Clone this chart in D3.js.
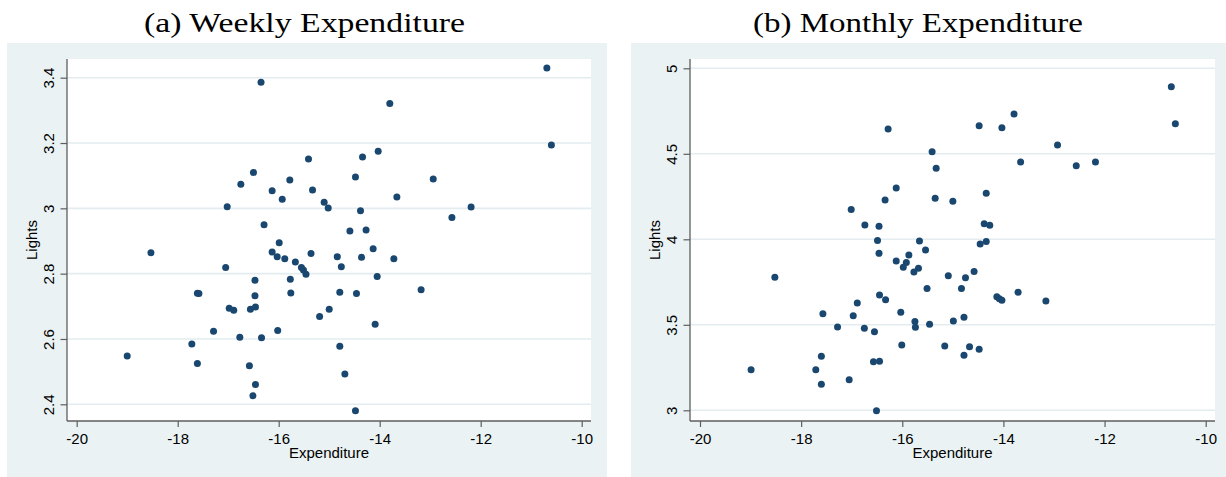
<!DOCTYPE html>
<html>
<head>
<meta charset="utf-8">
<script src="https://cdn.jsdelivr.net/npm/d3@7"></script>
<style>
  html, body { margin: 0; padding: 0; background: #ffffff; }
  svg { display: block; }
</style>
</head>
<body>
<svg id="chart" width="1226" height="477"></svg>
<script>
// Weekly expenditure vs. lights
const weeklyExp = [-10.69,-10.60,-16.35,-13.80,-14.03,-14.34,-15.41,-16.50,-15.78,-16.75,
  -16.13,-15.33,-15.93,-17.02,-16.29,-15.99,-14.48,-12.94,-15.10,-15.02,
  -14.38,-13.66,-12.57,-12.19,-14.59,-14.27,-15.36,-14.84,-14.36,-14.13,
  -13.72,-18.53,-16.13,-16.03,-15.88,-15.67,-15.55,-15.51,-15.46,-17.05,
  -16.47,-15.77,-14.76,-14.05,-17.61,-17.58,-16.47,-15.76,-14.79,-14.46,
  -13.18,-16.98,-16.89,-16.56,-16.46,-15.19,-15.00,-17.29,-16.02,-14.09,
  -16.77,-16.34,-17.72,-14.79,-19.00,-17.61,-16.58,-14.69,-16.46,-16.51,-14.48];
const weeklyLights = [3.430,3.194,3.386,3.321,3.175,3.157,3.151,3.110,3.087,3.074,
  3.054,3.056,3.028,3.005,2.950,2.895,3.096,3.090,3.019,3.001,
  2.993,3.035,2.972,3.004,2.931,2.934,2.862,2.852,2.850,2.876,
  2.846,2.864,2.866,2.852,2.846,2.836,2.819,2.811,2.798,2.819,
  2.780,2.783,2.821,2.791,2.740,2.739,2.732,2.741,2.743,2.739,
  2.751,2.694,2.688,2.691,2.698,2.669,2.691,2.624,2.626,2.645,
  2.605,2.604,2.585,2.578,2.548,2.525,2.518,2.493,2.461,2.426,2.380];

// Monthly expenditure vs. lights
const monthlyExp = [-10.68,-10.60,-16.28,-14.48,-14.03,-13.79,-12.93,-15.41,-15.33,-13.66,
  -12.56,-12.18,-16.12,-15.35,-15.00,-14.34,-16.34,-17.01,-16.74,-16.46,
  -14.38,-14.27,-16.49,-15.66,-15.54,-14.46,-14.34,-16.46,-15.87,-16.12,
  -15.92,-15.98,-15.77,-15.68,-18.52,-15.09,-14.75,-14.58,-15.51,-14.83,
  -14.13,-14.08,-14.03,-13.71,-13.16,-16.45,-16.33,-16.89,-17.57,-16.97,
  -16.03,-15.75,-15.74,-15.46,-14.99,-14.78,-17.28,-16.75,-16.55,-16.01,
  -15.16,-14.67,-14.48,-14.78,-17.60,-16.57,-16.45,-18.99,-17.71,-17.05,-17.60,-16.51];
const monthlyLights = [4.892,4.676,4.645,4.664,4.653,4.733,4.551,4.512,4.415,4.452,
  4.430,4.452,4.300,4.240,4.222,4.269,4.230,4.175,4.084,4.076,
  4.091,4.082,3.993,3.990,3.937,3.973,3.987,3.918,3.908,3.873,
  3.865,3.836,3.809,3.830,3.778,3.787,3.775,3.811,3.713,3.713,
  3.664,3.653,3.643,3.690,3.639,3.674,3.647,3.627,3.565,3.553,
  3.573,3.519,3.485,3.503,3.522,3.544,3.487,3.480,3.460,3.382,
  3.376,3.372,3.357,3.322,3.316,3.284,3.287,3.237,3.237,3.179,3.152,2.998];

const xTicks = [-20, -18, -16, -14, -12, -10];
const weeklyTicks = [2.4, 2.6, 2.8, 3, 3.2, 3.4];
const monthlyTicks = [3, 3.5, 4, 4.5, 5];
const titles = ["(a) Weekly Expenditure", "(b) Monthly Expenditure"];
const xTitle = "Expenditure";
const yTitle = "Lights";

const svg = d3.select("#chart");

const BG = "#EAF2F3", GRID = "#E3ECEF", AXIS = "#5e5e5e", MARK = "#1A476F";
const SANS = "'Liberation Sans', Arial, sans-serif";
const SERIF = "'Liberation Serif', 'Times New Roman', serif";

const panels = [
  { xs: weeklyExp, ys: weeklyLights, yTicks: weeklyTicks, title: titles[0],
    titleX: 304.5, titleW: 321,
    bg: [7, 607], plot: [67, 591, 59, 421],
    xRange: [76.7, 581.7], yDomain: [2.4, 3.4], yRange: [404.3, 77.7] },
  { xs: monthlyExp, ys: monthlyLights, yTicks: monthlyTicks, title: titles[1],
    titleX: 918, titleW: 330,
    bg: [631, 1226], plot: [690, 1215, 59, 421],
    xRange: [700, 1205.7], yDomain: [3, 5], yRange: [410.3, 68.3] }
];

panels.forEach(p => {
  const [px0, px1, py0, py1] = p.plot;
  const g = svg.append("g");

  // outer graph region
  g.append("rect").attr("x", p.bg[0]).attr("y", 43)
    .attr("width", p.bg[1] - p.bg[0]).attr("height", 434).attr("fill", BG);
  // plot region
  g.append("rect").attr("x", px0).attr("y", py0)
    .attr("width", px1 - px0).attr("height", py1 - py0).attr("fill", "#ffffff");

  const x = d3.scaleLinear().domain([-20, -10]).range(p.xRange);
  const y = d3.scaleLinear().domain(p.yDomain).range(p.yRange);

  // horizontal grid
  g.append("g").selectAll("line").data(p.yTicks).join("line")
    .attr("x1", px0).attr("x2", px1)
    .attr("y1", d => y(d)).attr("y2", d => y(d))
    .attr("stroke", GRID).attr("stroke-width", 1.6);

  // y axis
  const ya = g.append("g").attr("transform", `translate(${px0},0)`)
    .call(d3.axisLeft(y).tickValues(p.yTicks).tickSize(6.5).tickSizeOuter(0)
      .tickFormat(d => String(d)));
  ya.select(".domain").remove();
  ya.selectAll(".tick line").attr("stroke", AXIS).attr("stroke-width", 1.2);
  ya.selectAll(".tick text")
    .attr("transform", "rotate(-90)")
    .attr("x", 0).attr("y", -13.5).attr("dy", 0)
    .attr("text-anchor", "middle")
    .attr("font-family", SANS).attr("font-size", 15).attr("fill", "#000");

  // x axis
  const xa = g.append("g").attr("transform", `translate(0,${py1})`)
    .call(d3.axisBottom(x).tickValues(xTicks).tickSize(6).tickSizeOuter(0)
      .tickFormat(d => String(d)));
  xa.select(".domain").remove();
  xa.selectAll(".tick line").attr("stroke", AXIS).attr("stroke-width", 1.2);
  xa.selectAll(".tick text")
    .attr("y", 23).attr("dy", 0)
    .attr("font-family", SANS).attr("font-size", 15).attr("fill", "#000");

  // axis lines
  g.append("line").attr("x1", px0).attr("x2", px0).attr("y1", py0).attr("y2", py1)
    .attr("stroke", AXIS).attr("stroke-width", 1.3);
  g.append("line").attr("x1", px0).attr("x2", px1).attr("y1", py1).attr("y2", py1)
    .attr("stroke", AXIS).attr("stroke-width", 1.3);

  // axis titles
  g.append("text").attr("x", (px0 + px1) / 2).attr("y", 457.5)
    .attr("text-anchor", "middle").attr("font-family", SANS).attr("font-size", 15)
    .attr("fill", "#000").text(xTitle);
  g.append("text")
    .attr("transform", `translate(${px0 - 30.5},${(py0 + py1) / 2}) rotate(-90)`)
    .attr("text-anchor", "middle").attr("font-family", SANS).attr("font-size", 15)
    .attr("fill", "#000").text(yTitle);

  // points
  g.append("g").selectAll("circle").data(d3.range(p.xs.length)).join("circle")
    .attr("cx", i => x(p.xs[i])).attr("cy", i => y(p.ys[i]))
    .attr("r", 3.5).attr("fill", MARK);

  // panel title
  svg.append("text").attr("x", p.titleX).attr("y", 32)
    .attr("text-anchor", "middle").attr("font-family", SERIF).attr("font-size", 28)
    .attr("textLength", p.titleW).attr("lengthAdjust", "spacingAndGlyphs")
    .attr("fill", "#000").text(p.title);
});
</script>
</body>
</html>
